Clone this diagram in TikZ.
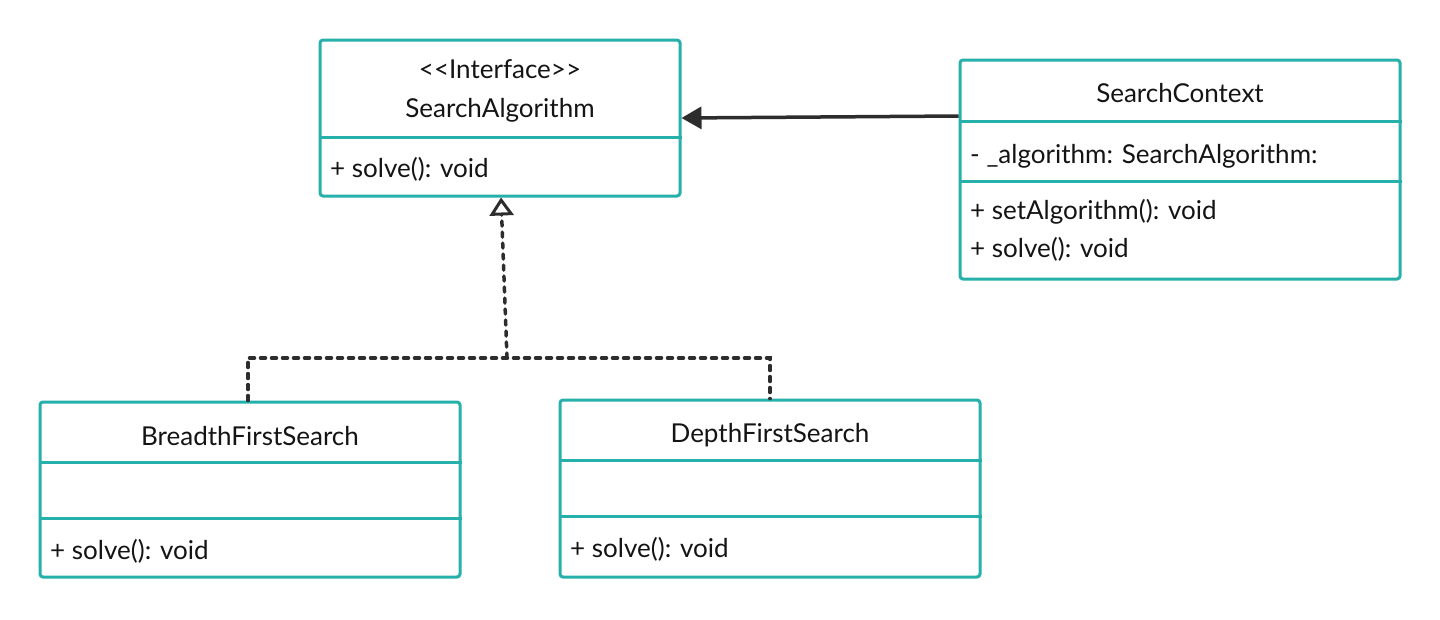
\documentclass[tikz,border=0pt]{standalone}
\usepackage{fontspec}
\setmainfont{Lato}
\usetikzlibrary{arrows.meta}
\definecolor{teal2}{RGB}{38,176,172}
\definecolor{ink}{RGB}{20,20,20}
\definecolor{edge}{RGB}{45,45,45}
\begin{document}
\begin{tikzpicture}[x=1pt,y=-1pt,
  umlbox/.style={draw=teal2, line width=3pt, rounded corners=3pt, fill=white, inner sep=0pt},
  divider/.style={draw=teal2, line width=3pt},
  ttl/.style={font=\fontsize{26}{30}\selectfont, text=ink, anchor=base, inner sep=0pt},
  mbr/.style={font=\fontsize{26}{30}\selectfont, text=ink, anchor=base west, inner sep=0pt},
  rel/.style={draw=edge, line width=3.5pt, line cap=round, dash pattern=on 5pt off 6pt},
  assoc/.style={draw=edge, line width=3.5pt}
]
\useasboundingbox[fill=white] (0,0) rectangle (1440,619);

% SearchAlgorithm
\node[umlbox, minimum width=360pt, minimum height=156pt] (sa) at (500,118) {};
\draw[divider] (sa.west |- 0,137) -- (sa.east |- 0,137);
\node[ttl] (saS) at (500,78) {<{}<Interface>{}>};
\node[ttl] (saN) at (500,117) {SearchAlgorithm};
\node[mbr] (saM) at (330,177) {+ solve(): void};

% SearchContext
\node[umlbox, minimum width=440pt, minimum height=219pt] (sc) at (1180,169.5) {};
\draw[divider] (sc.west |- 0,121) -- (sc.east |- 0,121);
\draw[divider] (sc.west |- 0,181) -- (sc.east |- 0,181);
\node[ttl] (scN) at (1180,102) {SearchContext};
\node[mbr] (scA) at (970,163) {- \_algorithm: SearchAlgorithm:};
\node[mbr] (scM1) at (970,219) {+ setAlgorithm(): void};
\node[mbr] (scM2) at (970,257) {+ solve(): void};

% BreadthFirstSearch
\node[umlbox, minimum width=420pt, minimum height=175pt] (bfs) at (250,489.5) {};
\draw[divider] (bfs.west |- 0,462) -- (bfs.east |- 0,462);
\draw[divider] (bfs.west |- 0,518) -- (bfs.east |- 0,518);
\node[ttl] (bfsN) at (250,445) {BreadthFirstSearch};
\node[mbr] (bfsM) at (50,559) {+ solve(): void};

% DepthFirstSearch
\node[umlbox, minimum width=420pt, minimum height=177pt] (dfs) at (770,488.5) {};
\draw[divider] (dfs.west |- 0,460) -- (dfs.east |- 0,460);
\draw[divider] (dfs.west |- 0,516) -- (dfs.east |- 0,516);
\node[ttl] (dfsN) at (770,442) {DepthFirstSearch};
\node[mbr] (dfsM) at (570,557) {+ solve(): void};

% association
\draw[assoc, -{Triangle[length=20pt,width=22pt]}] (sc.west |- 0,116) -- (sa.east |- 0,118);

% realization
\coordinate (j) at (507,358);
\draw[rel] (bfs.north -| 248,0) -- (248,358) -- (770,358) -- (dfs.north -| 770,0);
\draw[rel, -{Triangle[open,length=18pt,width=24pt,line width=3pt]}] (j) -- (sa.south -| 501,0);
\end{tikzpicture}
\end{document}
